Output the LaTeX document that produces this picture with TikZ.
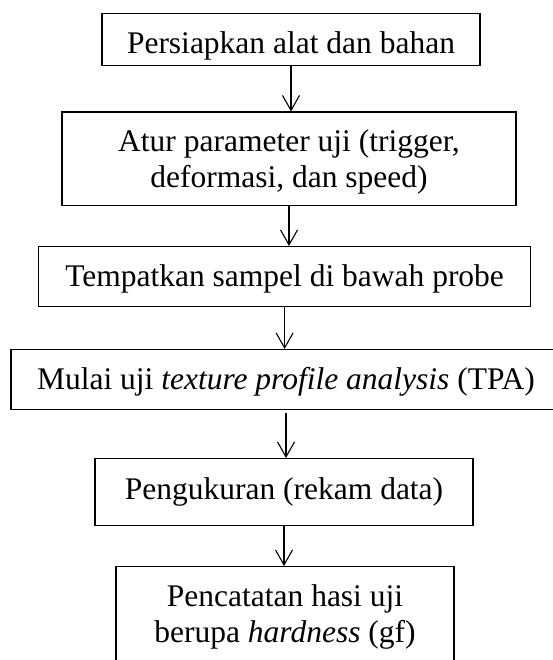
\documentclass[tikz,border=0pt]{standalone}
\usepackage{fontspec}
\setmainfont{Liberation Serif}
\usetikzlibrary{arrows.meta}

\tikzset{
	box/.style={draw, line width=1.3pt, anchor=north, inner sep=0pt, text height=40pt, font=\fontsize{31.5}{36}\selectfont},
	flow/.style={-{Straight Barb[length=15pt,width=17pt,line width=1.1pt]}, line width=1.1pt}
}

\begin{document}
\begin{tikzpicture}[x=1pt,y=1pt]
\useasboundingbox (0,0) rectangle (552,-660);

\node (persiapan) at (291,-12.6) [box, minimum width=378pt, text depth=12.4pt] {Persiapkan alat dan bahan};
\node (parameter) at (289,-111.5) [box, minimum width=454pt, text height=75.5pt, text depth=18pt, align=center] {Atur parameter uji (trigger,\\deformasi, dan speed)};
\node (sampel) at (284.6,-246) [box, minimum width=492pt, text depth=20pt] {Tempatkan sampel di bawah probe};
\node (tpa) at (286,-349) [box, minimum width=550pt, text depth=20pt] {Mulai uji \textit{texture profile analysis} (TPA)};
\node (ukur) at (284,-458) [box, minimum width=378pt, text height=41pt, text depth=26pt] {Pengukuran (rekam data)};
\node (catat) at (285,-566) [box, minimum width=338pt, text height=76pt, text depth=60pt, align=center] {Pencatatan hasi uji\\berupa \textit{hardness} (gf)};

\draw [flow] (persiapan.south) -- (persiapan.south |- parameter.north);
\draw [flow] (parameter.south) -- (parameter.south |- sampel.north);
\draw [flow] (sampel.south) -- (sampel.south |- tpa.north);
\draw [flow, shorten <=3pt] (tpa.south) -- (tpa.south |- ukur.north);
\draw [flow] (ukur.south) -- (ukur.south |- catat.north);
\end{tikzpicture}
\end{document}
